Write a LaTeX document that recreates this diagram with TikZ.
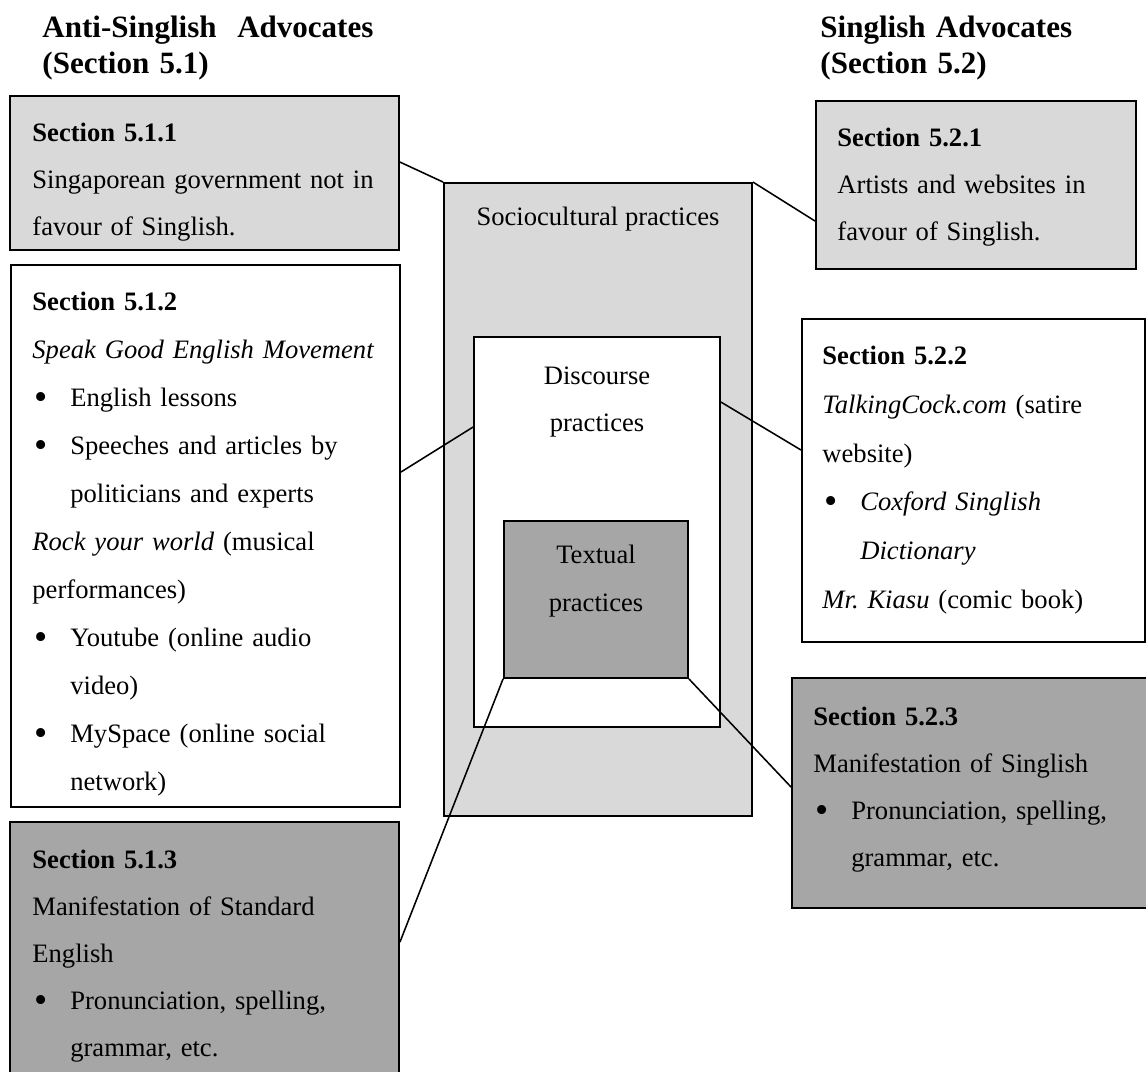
\documentclass[tikz,border=0pt]{standalone}
\usepackage{fontspec}
\setmainfont{Liberation Serif}
\usetikzlibrary{fit,calc}
\definecolor{lightfill}{HTML}{D9D9D9}
\definecolor{darkfill}{HTML}{A6A6A6}
\frenchspacing
\newcommand{\bul}{\makebox[17.1pt][l]{\hspace{0.8pt}\raisebox{-1.4pt}{\fontsize{17}{17}\selectfont\textbullet}}}
\newcommand{\hang}{\hspace*{17.1pt}}
\begin{document}
\begin{tikzpicture}[x=0.4512pt, y=-0.4512pt,
  panel/.style={draw=black, line width=0.85pt, inner sep=0pt},
  link/.style={draw=black, line width=0.7pt},
  body/.style={anchor=north west, inner sep=0pt, align=left, text width=165pt, font=\fontsize{12}{21.2}\selectfont},
  centred/.style={anchor=north, inner sep=0pt, align=center, text width=120pt, font=\fontsize{12}{21.2}\selectfont},
  heading/.style={anchor=north west, inner sep=0pt, align=left, text width=200pt, font=\fontsize{14}{16.2}\selectfont\bfseries}]
\useasboundingbox (0,0) rectangle (1146,1072);

% boxes
\node[panel, fill=lightfill, fit={(10,96) (399,250)}] (b511) {};
\node[panel, fill=white, fit={(11,265) (400,807)}] (b512) {};
\node[panel, fill=darkfill, fit={(10,822) (399,1095)}] (b513) {};
\node[panel, fill=lightfill, fit={(444,183) (752,816)}] (socio) {};
\node[panel, fill=white, fit={(474,337) (720,727)}] (disc) {};
\node[panel, fill=darkfill, fit={(504,521) (688,678)}] (textual) {};
\node[panel, fill=lightfill, fit={(816,101) (1136,269)}] (b521) {};
\node[panel, fill=white, fit={(802,319) (1145,642)}] (b522) {};
\node[panel, fill=darkfill, fit={(792,678) (1165,908)}] (b523) {};

% connectors
\draw[link] ($(b511.north east)+(0,67)$) -- (socio.north west);
\draw[link] (socio.north east) -- ($(b521.north west)+(0,121)$);
\draw[link] ($(b512.north east)+(0,208)$) -- ($(disc.north west)+(0,91)$);
\draw[link] ($(disc.north east)+(0,66)$) -- ($(b522.north west)+(0,132)$);
\draw[link] (textual.south west) -- ($(b513.north east)+(0,121)$);
\draw[link] (textual.south east) -- ($(b523.north west)+(0,110)$);

% headings
\node[heading] (hl) at (42,12) {\strut Anti-Singlish\ \ Advocates\\(Section 5.1)};
\node[heading] (hr) at (820,12) {\strut Singlish Advocates\\(Section 5.2)};

% texts
\node[body] (t511) at (32,108) {\strut\textbf{Section 5.1.1}\\Singaporean government not in\\favour of Singlish.};
\node[body, font=\fontsize{12}{21.66}\selectfont] (t512) at (32,276) {\strut\textbf{Section 5.1.2}\\\textit{Speak Good English Movement}\\\bul English lessons\\\bul Speeches and articles by\\\hang politicians and experts\\\textit{Rock your world} (musical\\performances)\\\bul Youtube (online audio\\\hang video)\\\bul MySpace (online social\\\hang network)};
\node[body] (t513) at (32,835) {\strut\textbf{Section 5.1.3}\\Manifestation of Standard\\English\\\bul Pronunciation, spelling,\\\hang grammar, etc.};

\node[anchor=base, inner sep=0pt, font=\fontsize{12}{21.2}\selectfont] (tsocio) at (598,226) {Sociocultural practices};
\node[centred] (tdisc) at (597,351) {\strut Discourse\\practices};
\node[centred, font=\fontsize{12}{21.66}\selectfont] (ttext) at (596,529) {\strut Textual\\practices};

\node[body] (t521) at (837,113) {\strut\textbf{Section 5.2.1}\\Artists and websites in\\favour of Singlish.};
\node[body, font=\fontsize{12}{22}\selectfont] (t522) at (822,330) {\strut\textbf{Section 5.2.2}\\\textit{TalkingCock.com} (satire\\website)\\\bul\textit{Coxford Singlish}\\\hang\textit{Dictionary}\\\textit{Mr. Kiasu} (comic book)};
\node[body] (t523) at (813,692) {\strut\textbf{Section 5.2.3}\\Manifestation of Singlish\\\bul Pronunciation, spelling,\\\hang grammar, etc.};
\end{tikzpicture}
\end{document}
